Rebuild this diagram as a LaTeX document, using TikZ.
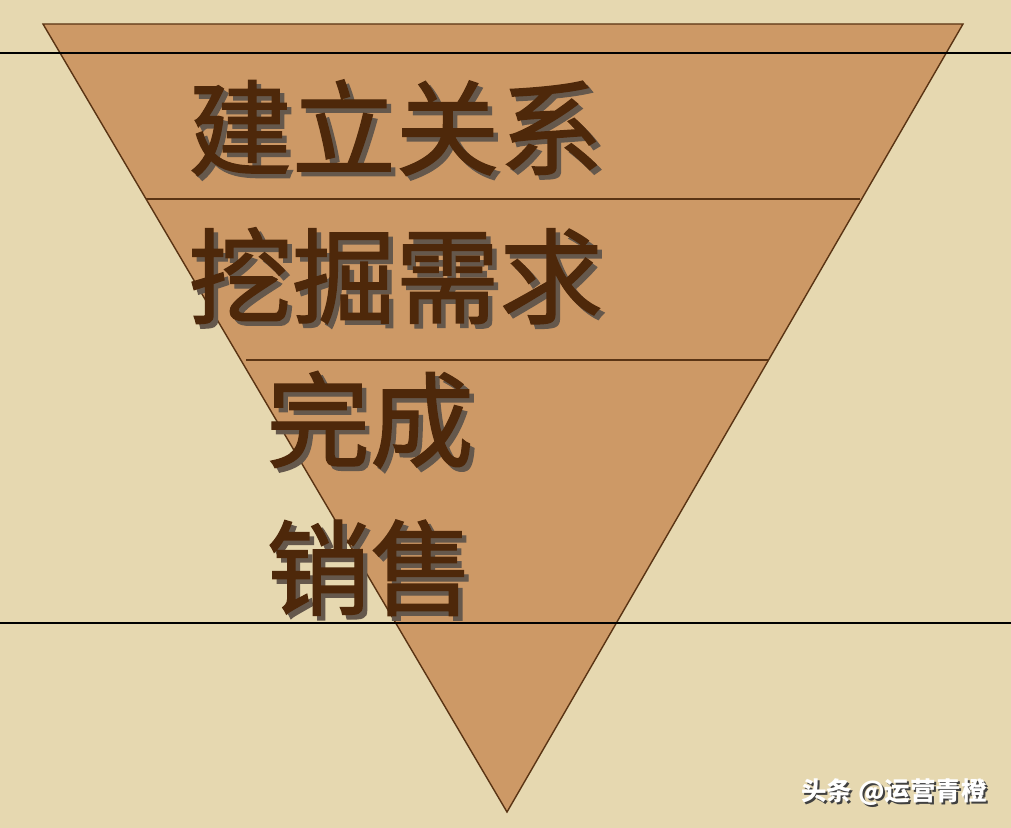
\documentclass[tikz,border=0pt]{standalone}
\usepackage{fontspec}
\newfontfamily\cjk{Noto Sans CJK SC}
\newfontfamily\cjkthick{Noto Sans CJK SC}[FakeBold=1.3]
\definecolor{paper}{RGB}{230,216,176}
\definecolor{funnel}{RGB}{205,153,102}
\definecolor{rim}{RGB}{90,52,20}
\definecolor{ink}{RGB}{78,40,10}
\definecolor{dusk}{RGB}{50,32,16}
% text with a drop shadow, in one box
\newcommand{\shadowed}[1]{\rlap{\hspace{0.09cm}\raisebox{-0.09cm}{\color{dusk!75}#1}}#1}
\newcommand{\lifted}[1]{\rlap{\hspace{0.04cm}\raisebox{-0.04cm}{\color{black!75}#1}}#1}
\tikzset{
  stage/.style={anchor=west,inner sep=0pt,font=\cjkthick\fontsize{59}{59}\selectfont,text=ink},
  wmark/.style={inner sep=0pt,font=\cjk\bfseries\fontsize{14.5}{14.5}\selectfont,text=white}
}
\begin{document}
\begin{tikzpicture}[x=0.02cm,y=-0.02cm]
  \fill[paper] (0,0) rectangle (1011,828);
  \useasboundingbox (0,0) rectangle (1011,828);
  \draw
    (43,24) coordinate (tl)
    (963,24) coordinate (tr)
    (507,812) coordinate (tip);
  \fill[funnel,draw=rim,line width=0.8pt] (tl) -- (tr) -- (tip) -- cycle;
  \begin{scope}[rim,line width=0.7pt]
    \draw (146,199) to (860,199);
    \draw (246,360) to (768,360);
  \end{scope}
  \begin{scope}[black,line width=0.6pt]
    \draw (0,53) to (1011,53);
    \draw (0,623) to (1011,623);
  \end{scope}
  \draw
    (188,130) node[stage] (s1) {\shadowed{建立关系}}
    (188,278) node[stage] (s2) {\shadowed{挖掘需求}}
    (266,422) node[stage] (s3) {\shadowed{完成}}
    (266,570) node[stage] (s4) {\shadowed{销售}};
  \node[wmark] (tag) at (894,793) {\lifted{头条 @运营青橙}};
\end{tikzpicture}
\end{document}
